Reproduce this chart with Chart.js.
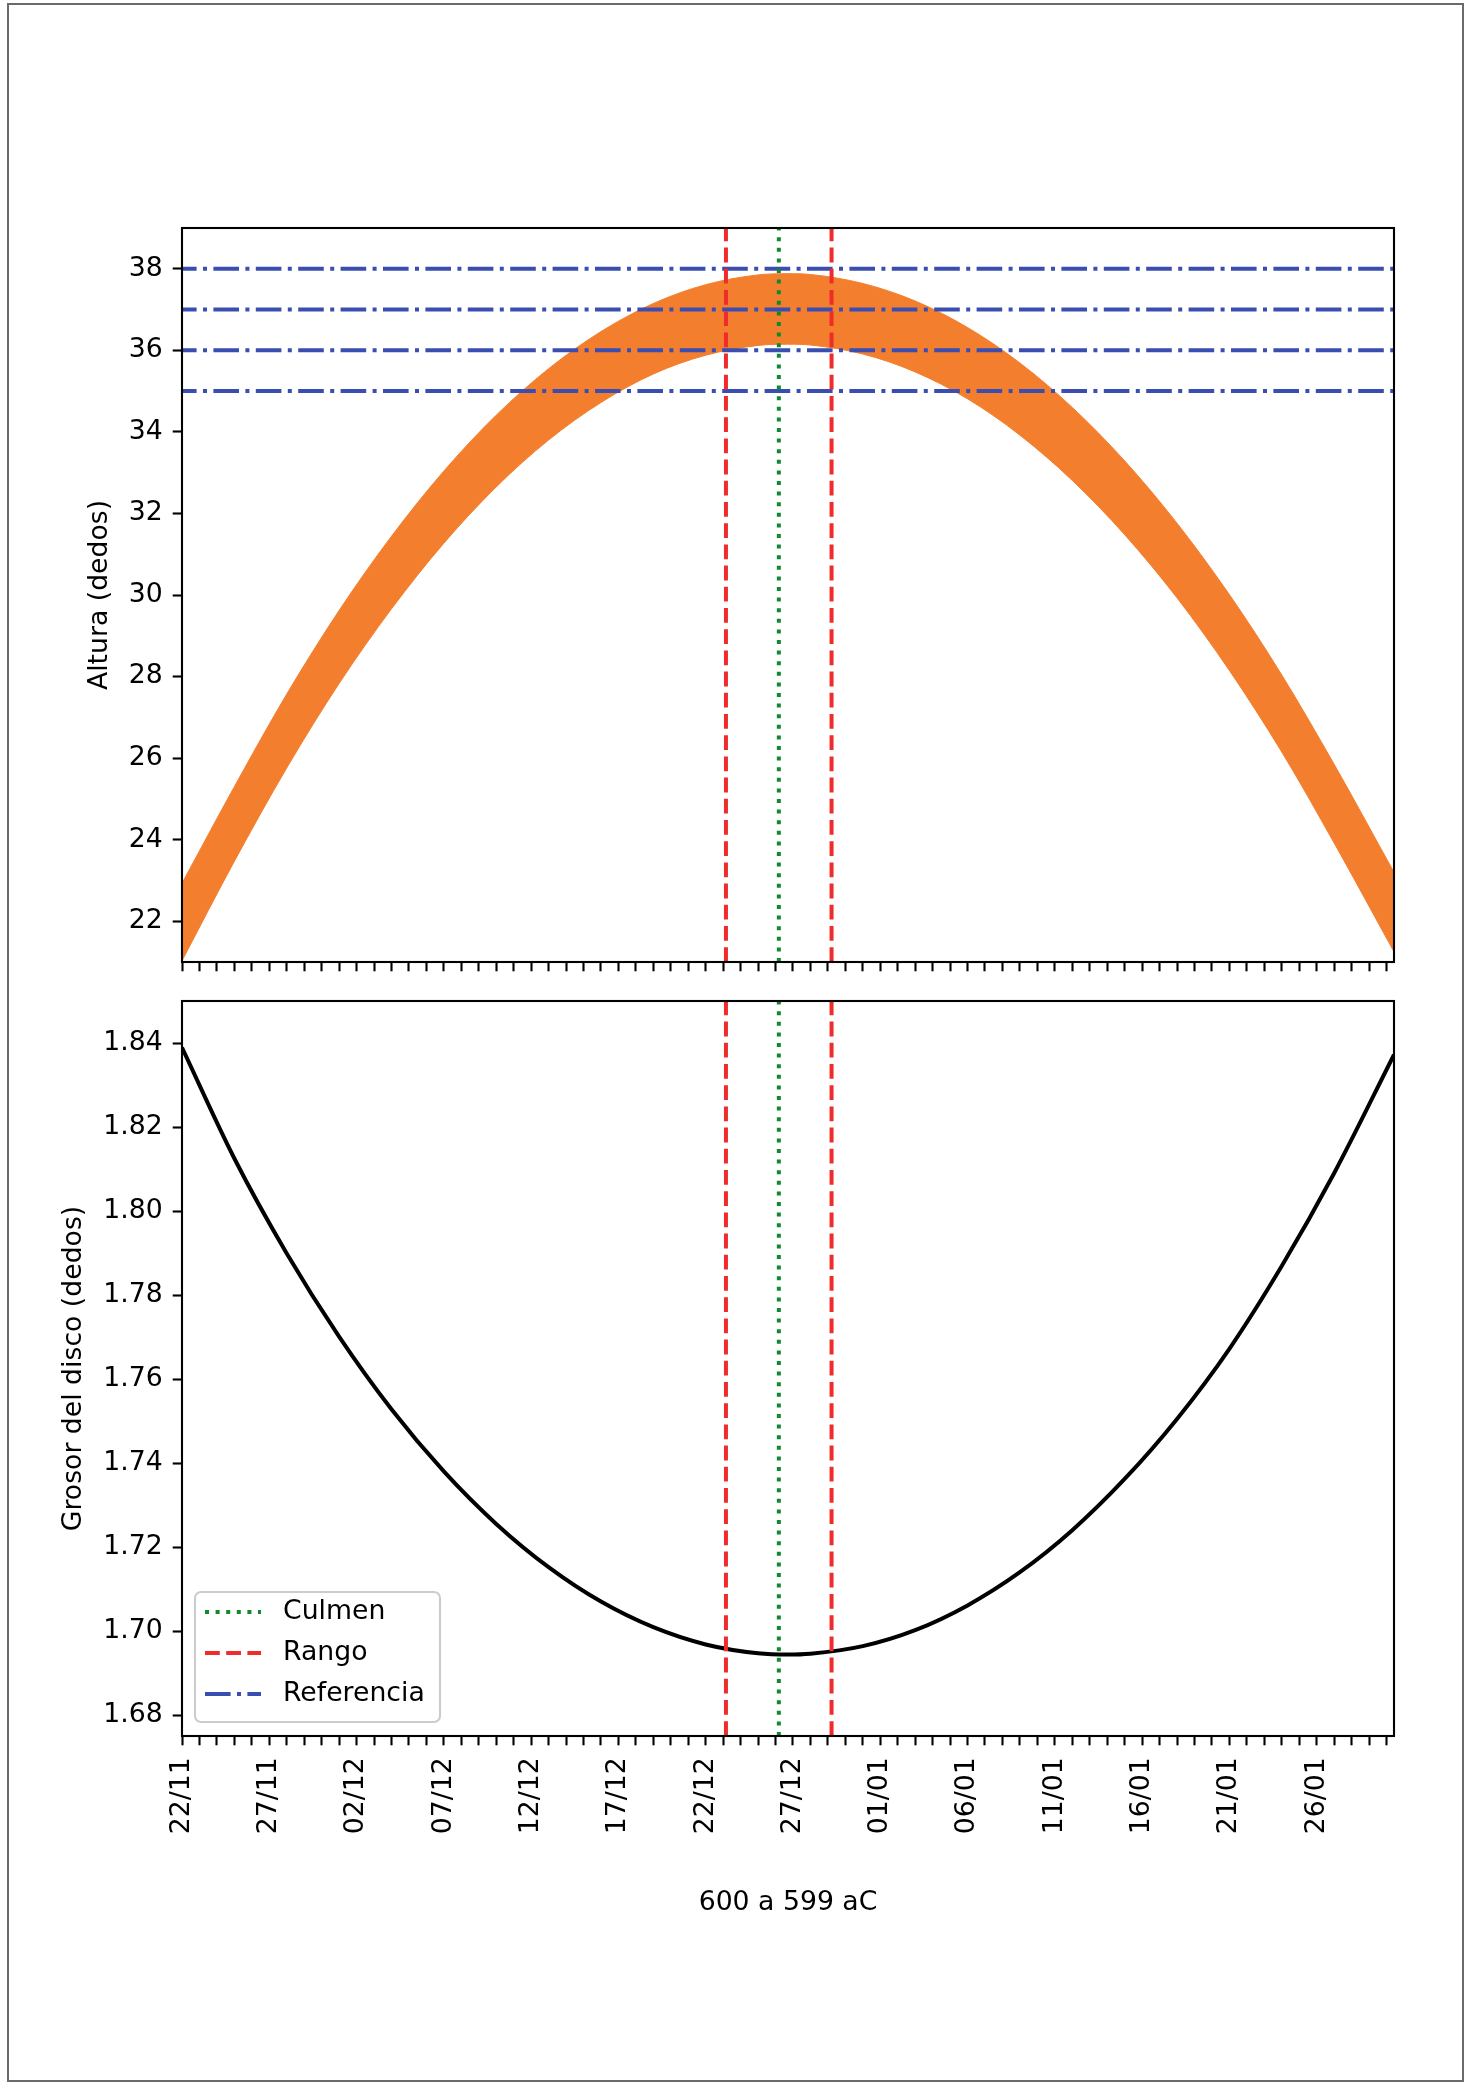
<!DOCTYPE html>
<html>
<head>
<meta charset="utf-8">
<script src="https://cdn.jsdelivr.net/npm/chart.js@4.4.1/dist/chart.umd.min.js"></script>
<style>
html,body{margin:0;padding:0;background:#fff;}
#wrap{position:relative;width:1467px;height:2084px;overflow:hidden;background:#fff;}
#frame{position:absolute;left:7px;top:3px;width:1457px;height:2079px;border:2px solid #6a6a6a;box-sizing:border-box;}
#c1{position:absolute;left:0;top:0;}
#c2{position:absolute;left:0;top:985px;}
</style>
</head>
<body>
<div id="wrap">
  <div id="frame"></div>
  <canvas id="c1" width="1467" height="985"></canvas>
  <canvas id="c2" width="1467" height="1099"></canvas>
</div>
<script>
// ---- data ----
const days = [0,3,6,9,12,15,18,21,24,27,30,33,34.7,36,39,42,45,48,51,54,57,60,63,66,69.43];
const alturaSup = [22.93,25.30,27.57,29.62,31.44,33.04,34.41,35.55,36.46,37.15,37.61,37.85,37.88,37.86,37.64,37.21,36.56,35.69,34.60,33.29,31.76,30.01,28.04,25.85,23.20];
const alturaInf = [21.03,23.47,25.76,27.83,29.66,31.27,32.65,33.80,34.72,35.42,35.88,36.12,36.15,36.13,35.91,35.47,34.81,33.92,32.81,31.48,29.93,28.15,26.15,23.92,21.25];
const grosor = [1.8389,1.8125,1.7899,1.7701,1.7528,1.7380,1.7255,1.7152,1.7070,1.7009,1.6968,1.6947,1.6944,1.6946,1.6964,1.7002,1.7061,1.7140,1.7240,1.7362,1.7505,1.7672,1.7869,1.8090,1.8372];
const culmenDay = 34.19;
const rangoDays = [31.16, 37.21];
const refLevels = [35, 36, 37, 38];
const xTickLabels = ['22/11','27/11','02/12','07/12','12/12','17/12','22/12','27/12','01/01','06/01','11/01','16/01','21/01','26/01'];
const yTicksTop = [22,24,26,28,30,32,34,36,38];
const yTicksBottom = [1.68,1.70,1.72,1.74,1.76,1.78,1.80,1.82,1.84];
const xMin = 0, xMax = 69.43;
const yRangeTop = [21, 39];
const yRangeBottom = [1.675, 1.85];

// ---- styles ----
const FONT = '"DejaVu Sans", "Liberation Sans", sans-serif';
const FS = 26.7;
const ORANGE = '#f37f2e';
const BLUE = '#3a4db0';
const RED = '#ef2b2b';
const GREEN = '#0f8a2c';
const LW = 4;
const DASH_DOTTED = [4, 6.6];
const DASH_DASHED = [14.8, 6.4];
const DASH_DASHDOT = [25.6, 6.4, 4, 6.4];

Chart.defaults.font.family = FONT;
Chart.defaults.font.size = FS;
Chart.defaults.color = '#000';

const pts = (xs, ys) => xs.map((x, i) => ({x: x, y: ys[i]}));
const dayTicks = [];
for (let d = 0; d <= Math.floor(xMax); d++) dayTicks.push(d);

const spinePlugin = {
  id: 'spines',
  afterDatasetsDraw(chart) {
    const {ctx, chartArea: a} = chart;
    ctx.save();
    ctx.lineWidth = 2.1;
    ctx.strokeStyle = '#000';
    ctx.setLineDash([]);
    ctx.strokeRect(a.left, a.top, a.right - a.left, a.bottom - a.top);
    ctx.restore();
  }
};

function vlines(yr) {
  const out = [];
  out.push({
    label: 'Culmen', data: [{x: culmenDay, y: yr[0]}, {x: culmenDay, y: yr[1]}],
    borderColor: GREEN, borderWidth: LW, borderDash: DASH_DOTTED, pointRadius: 0, fill: false, order: 2
  });
  rangoDays.forEach((d, i) => out.push({
    label: i === 0 ? 'Rango' : 'Rango_', data: [{x: d, y: yr[0]}, {x: d, y: yr[1]}],
    borderColor: RED, borderWidth: LW, borderDash: DASH_DASHED, pointRadius: 0, fill: false, order: 3
  }));
  return out;
}

function xScale(showLabels, fitHeight) {
  return {
    type: 'linear', min: xMin, max: xMax,
    afterBuildTicks: s => { s.ticks = dayTicks.map(v => ({value: v})); },
    afterFit: s => { s.height = fitHeight; s.paddingLeft = 0; s.paddingRight = 0; s.paddingTop = 0; s.paddingBottom = 0; },
    grid: {drawOnChartArea: false, drawTicks: true, tickLength: 9.3, tickWidth: 2.1, tickColor: '#000'},
    border: {display: false},
    ticks: {
      display: showLabels, autoSkip: false, minRotation: 90, maxRotation: 90, padding: 12,
      font: {size: FS}, color: '#000',
      callback: v => (v % 5 === 0 ? xTickLabels[v / 5] : '')
    },
    title: showLabels ? {display: true, text: '600 a 599 aC', font: {size: FS}, color: '#000', padding: {top: 0, bottom: 0}} : {display: false}
  };
}

function yScale(range, ticks, title, titlePad, fmt) {
  return {
    type: 'linear', min: range[0], max: range[1],
    afterBuildTicks: s => { s.ticks = ticks.map(v => ({value: v})); },
    afterFit: s => { s.width = 182; s.paddingTop = 0; s.paddingBottom = 0; s.paddingLeft = 0; s.paddingRight = 0; },
    grid: {drawOnChartArea: false, drawTicks: true, tickLength: 9.3, tickWidth: 2.1, tickColor: '#000'},
    border: {display: false},
    ticks: {padding: 10, font: {size: FS}, color: '#000', callback: fmt},
    title: {display: true, text: title, font: {size: FS}, color: '#000', padding: {top: titlePad, bottom: 0}}
  };
}

// ---- top chart ----
const topDatasets = [
  {label: 'inf', data: pts(days, alturaInf), borderColor: ORANGE, borderWidth: 1, pointRadius: 0,
   fill: false, cubicInterpolationMode: 'monotone', order: 10},
  {label: 'sup', data: pts(days, alturaSup), borderColor: ORANGE, borderWidth: 1, pointRadius: 0,
   backgroundColor: ORANGE, fill: '-1', cubicInterpolationMode: 'monotone', order: 9}
];
refLevels.forEach((lv, i) => topDatasets.push({
  label: i === 0 ? 'Referencia' : 'Referencia_' + i,
  data: [{x: xMin, y: lv}, {x: xMax, y: lv}],
  borderColor: BLUE, borderWidth: LW, borderDash: DASH_DASHDOT, borderDashOffset: 11,
  pointRadius: 0, fill: false, order: 5
}));
vlines(yRangeTop).forEach(d => topDatasets.push(d));

new Chart(document.getElementById('c1'), {
  type: 'line',
  data: {datasets: topDatasets},
  options: {
    responsive: false, animation: false, devicePixelRatio: 1,
    layout: {padding: {top: 228, right: 73, bottom: 10, left: 0}},
    plugins: {legend: {display: false}, tooltip: {enabled: false}},
    scales: {
      x: xScale(false, 13),
      y: yScale(yRangeTop, yTicksTop, 'Altura (dedos)', 84.4, v => String(v))
    }
  },
  plugins: [spinePlugin]
});

// ---- bottom chart ----
const botDatasets = [
  {label: 'Grosor', data: pts(days, grosor), borderColor: '#000', borderWidth: LW, pointRadius: 0,
   fill: false, cubicInterpolationMode: 'monotone', order: 4}
];
vlines(yRangeBottom).forEach(d => botDatasets.push(d));

const legendEntries = [
  {text: 'Culmen', color: GREEN, dash: DASH_DOTTED},
  {text: 'Rango', color: RED, dash: DASH_DASHED},
  {text: 'Referencia', color: BLUE, dash: DASH_DASHDOT}
];

const legendPlugin = {
  id: 'mplLegend',
  afterDraw(chart) {
    const {ctx, chartArea: a} = chart;
    const x0 = a.left + 13, w = 245, h = 130;
    const y0 = a.bottom - 14 - h;
    ctx.save();
    ctx.beginPath();
    if (ctx.roundRect) ctx.roundRect(x0, y0, w, h, 6); else ctx.rect(x0, y0, w, h);
    ctx.fillStyle = 'rgba(255,255,255,0.8)';
    ctx.fill();
    ctx.lineWidth = 2.1;
    ctx.strokeStyle = '#cccccc';
    ctx.setLineDash([]);
    ctx.stroke();
    legendEntries.forEach((e, i) => {
      const cy = y0 + 20 + i * 41;
      ctx.beginPath();
      ctx.setLineDash(e.dash);
      ctx.lineDashOffset = 0;
      ctx.strokeStyle = e.color;
      ctx.lineWidth = LW;
      ctx.lineCap = 'butt';
      ctx.moveTo(x0 + 10, cy);
      ctx.lineTo(x0 + 66, cy);
      ctx.stroke();
      ctx.setLineDash([]);
      ctx.fillStyle = '#000';
      ctx.font = FS + 'px ' + FONT;
      ctx.textBaseline = 'middle';
      ctx.textAlign = 'left';
      ctx.fillText(e.text, x0 + 88, cy);
    });
    ctx.restore();
  }
};

new Chart(document.getElementById('c2'), {
  type: 'line',
  data: {datasets: botDatasets},
  options: {
    responsive: false, animation: false, devicePixelRatio: 1,
    layout: {padding: {top: 16, right: 73, bottom: 165.4, left: 0}},
    plugins: {legend: {display: false}, tooltip: {enabled: false}},
    scales: {
      x: xScale(true, 182.6),
      y: yScale(yRangeBottom, yTicksBottom, 'Grosor del disco (dedos)', 58.4, v => v.toFixed(2))
    }
  },
  plugins: [spinePlugin, legendPlugin]
});
</script>
</body>
</html>
